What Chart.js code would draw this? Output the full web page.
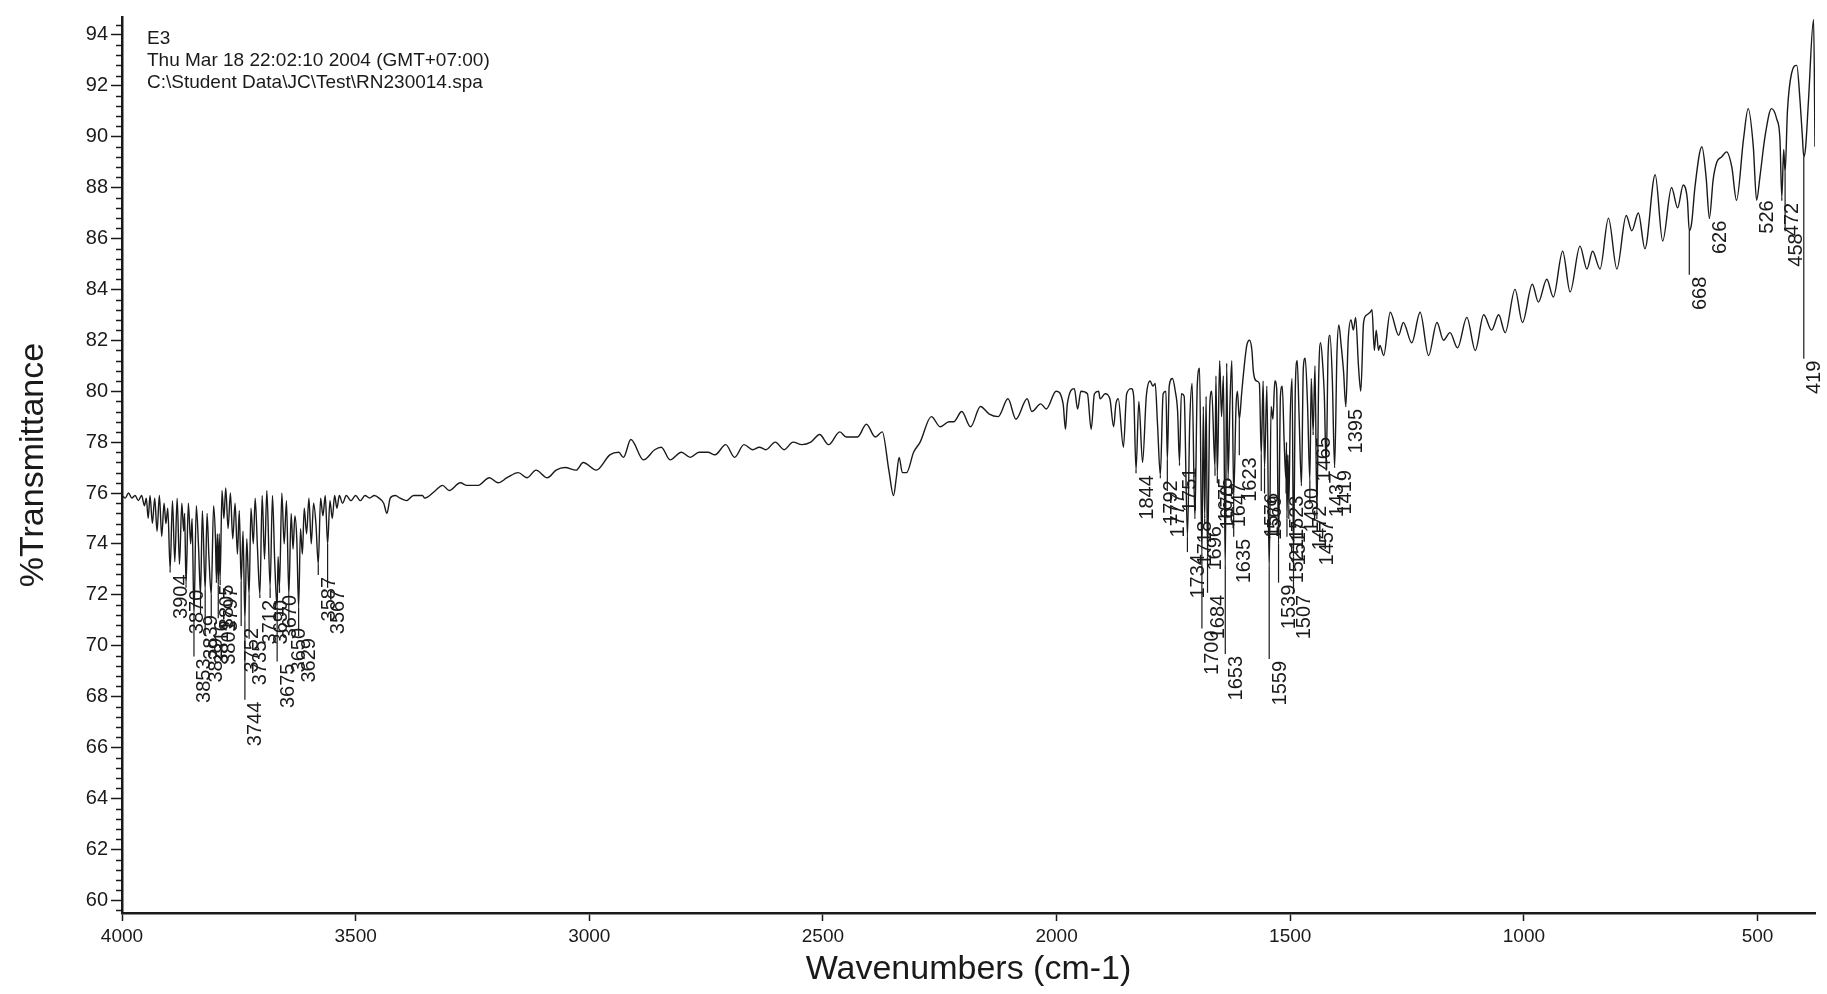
<!DOCTYPE html>
<html>
<head>
<meta charset="utf-8">
<title>IR spectrum - RN230014</title>
<script src="https://cdn.jsdelivr.net/npm/chart.js@4.4.1/dist/chart.umd.min.js"></script>
<style>
  html, body { margin: 0; padding: 0; background: #fff; }
</style>
</head>
<body>
<canvas id="irChart" width="1827" height="994"></canvas>
<script>
// ---- spectrum (wavenumber cm-1 / %T) ----
const wavenumbers = [
  4000, 3993, 3986, 3979, 3972, 3965, 3958, 3952,
  3948, 3944, 3940, 3935, 3930, 3925, 3920, 3915, 3910, 3906, 3902, 3897,
  3892, 3887, 3882, 3877, 3872, 3868, 3866, 3863, 3858, 3853, 3850, 3846,
  3841, 3836, 3832, 3828, 3822, 3818, 3814, 3809, 3804, 3800, 3798, 3796,
  3794, 3792, 3790, 3786, 3782, 3778, 3773, 3768, 3763, 3758, 3753, 3749,
  3745, 3741, 3737, 3733, 3728, 3724, 3719, 3715, 3710, 3705, 3700, 3695,
  3690, 3683, 3678, 3673, 3668, 3666, 3663, 3658, 3653, 3648, 3643, 3638,
  3634, 3630, 3626, 3622, 3618, 3614, 3610, 3605, 3600, 3595, 3590, 3585,
  3580, 3575, 3570, 3565, 3560, 3555, 3550, 3545, 3540, 3535, 3528, 3520,
  3510, 3500, 3490, 3480, 3470, 3460, 3450, 3440, 3433, 3426, 3415,
  3405, 3391, 3376, 3357, 3352, 3329, 3314, 3300, 3276, 3262, 3238, 3214,
  3195, 3176, 3152, 3133, 3114, 3090, 3071, 3052, 3028, 3013, 2985, 2956,
  2937, 2927, 2911, 2884, 2860, 2846, 2827, 2803, 2784, 2765, 2746, 2731,
  2708, 2689, 2669, 2650, 2636, 2622, 2602, 2583, 2564, 2545, 2526, 2507,
  2488, 2464, 2450, 2426, 2407, 2388, 2373, 2359, 2349, 2343, 2337, 2330,
  2321, 2306, 2292, 2268, 2249, 2230, 2220, 2203, 2184, 2163, 2144, 2125,
  2104, 2087, 2063, 2053, 2034, 2022, 2001, 1986, 1981, 1977, 1962, 1955,
  1948, 1934, 1926, 1919, 1910,
  1907, 1896, 1886, 1878, 1873, 1868, 1857, 1850, 1840, 1835, 1830, 1824,
  1816, 1808, 1800, 1794, 1789, 1784, 1778, 1772, 1766, 1763, 1759, 1752,
  1746, 1741, 1737, 1733, 1727, 1720, 1715, 1710, 1704, 1699, 1694, 1689,
  1686, 1683, 1680, 1677, 1672, 1668, 1661, 1659, 1656, 1651, 1647, 1643,
  1639, 1636, 1633, 1629, 1625, 1621, 1616, 1613, 1609, 1604, 1600, 1593,
  1587, 1582, 1579, 1572, 1566, 1562, 1558, 1555, 1550, 1545, 1541, 1537,
  1533, 1529, 1525, 1521, 1517, 1513, 1509, 1508, 1507, 1505, 1503, 1500,
  1496, 1493, 1489, 1485, 1481, 1476, 1472, 1468, 1463, 1458, 1455, 1451,
  1447, 1443, 1439, 1435, 1430, 1427, 1423, 1419, 1415, 1410, 1405, 1400,
  1396, 1391, 1386, 1381, 1376, 1370, 1365, 1360, 1354, 1349, 1343, 1336,
  1329, 1325, 1320, 1316, 1311, 1308, 1300, 1286, 1268, 1258, 1240, 1222,
  1204, 1186, 1172, 1158, 1142, 1122, 1104, 1086, 1069, 1054, 1040, 1019,
  1003, 982, 969, 951, 937, 917, 901, 880, 865, 853, 837, 819,
  801, 781, 769, 755, 741, 719, 703, 684, 671, 659, 650, 646,
  641, 634, 619, 610, 603, 595, 587, 577, 566, 555, 545, 530,
  520, 509, 502, 495, 484, 470, 459, 452, 448, 444, 441, 436,
  427, 416, 409, 404, 401, 397, 391, 380, 377
];

const transmittance = [
  75.9, 75.8, 76.0, 75.8, 75.9, 75.7, 75.9, 75.5,
  75.8, 75.0, 75.9, 74.8, 75.8, 74.5, 75.9, 74.3, 75.6, 74.8, 75.4, 73.0,
  75.7, 73.3, 75.8, 73.2, 75.6, 74.5, 75.2, 72.4, 75.6, 74.0, 75.0, 71.2,
  75.5, 73.8, 72.0, 75.3, 72.2, 75.2, 73.5, 72.0, 75.5, 74.2, 72.6, 74.4,
  72.4, 74.4, 72.6, 76.1, 75.0, 76.2, 74.6, 76.0, 74.2, 75.6, 73.6, 75.3,
  72.5, 74.5, 71.0, 74.2, 72.0, 75.4, 74.0, 75.8, 73.8, 72.0, 75.9, 73.4,
  76.1, 72.3, 75.9, 73.2, 71.5, 73.5, 72.3, 76.0, 74.0, 75.7, 72.0, 75.2,
  73.8, 75.1, 74.2, 71.5, 74.6, 73.6, 75.4, 74.4, 75.8, 74.0, 75.6, 74.8,
  73.2, 75.8, 75.1, 75.9, 74.0, 75.7, 75.0, 75.9, 75.4, 75.9, 75.6, 75.9,
  75.7, 75.9, 75.7, 75.9, 75.8, 75.9, 75.8, 75.6, 75.2, 75.8, 75.9,
  75.8, 75.7, 75.9, 75.9, 75.8, 76.1, 76.3, 76.1, 76.4, 76.3, 76.3, 76.6,
  76.4, 76.6, 76.8, 76.6, 76.9, 76.6, 76.9, 77.0, 76.9, 77.2, 76.9, 77.5,
  77.6, 77.4, 78.1, 77.3, 77.7, 77.8, 77.3, 77.6, 77.4, 77.6, 77.6, 77.5,
  77.9, 77.4, 77.9, 77.7, 77.8, 77.7, 78.0, 77.7, 78.0, 77.9, 78.0, 78.3,
  77.9, 78.4, 78.2, 78.2, 78.7, 78.2, 78.4, 76.9, 75.9, 76.6, 77.4, 76.8,
  76.8, 77.6, 78.0, 79.0, 78.6, 78.8, 78.8, 79.2, 78.6, 79.4, 79.1, 79.0,
  79.7, 78.9, 79.7, 79.2, 79.5, 79.3, 80.0, 79.5, 78.5, 79.5, 80.1, 79.3,
  80.0, 79.9, 78.5, 79.9, 80.0,
  79.7, 79.9, 79.7, 78.6, 79.5, 79.7, 77.8, 79.9, 80.1, 79.8, 76.9, 79.6,
  77.2, 79.8, 80.4, 80.2, 80.3, 78.7, 76.7, 79.9, 80.0, 77.3, 80.2, 80.5,
  80.0, 79.2, 77.2, 79.9, 79.8, 74.3, 78.8, 80.3, 75.0, 80.2, 80.9, 73.5,
  79.4, 75.0, 79.8, 73.5, 79.5, 80.0, 77.0, 80.6, 76.7, 81.2, 79.0, 80.6,
  73.0, 81.1, 76.6, 79.5, 81.2, 75.9, 79.4, 80.0, 78.9, 79.9, 80.7, 81.8,
  82.0, 81.6, 80.8, 80.4, 80.3, 77.5, 80.4, 77.0, 80.2, 73.0, 79.4, 78.9,
  80.4, 80.1, 74.0, 79.8, 80.2, 78.0, 76.5, 78.0, 75.0, 77.5, 75.5, 79.0,
  80.5, 73.5, 80.2, 81.2, 79.0, 76.3, 80.9, 81.3, 79.5, 76.5, 80.5, 78.4,
  81.0, 75.2, 80.6, 81.9, 80.9, 79.8, 77.0, 81.5, 82.2, 80.5, 77.0, 81.5,
  82.6, 81.8, 80.8, 79.4, 82.0, 82.8, 82.4, 82.9, 81.0, 80.0, 82.7, 83.0,
  83.1, 83.2, 81.6, 82.4, 81.6, 81.8, 81.4, 83.1, 82.2, 82.7, 81.9, 83.1,
  81.4, 82.7, 82.0, 82.3, 81.7, 82.9, 81.6, 83.0, 82.4, 83.0, 82.3, 84.0,
  82.7, 84.2, 83.5, 84.4, 83.7, 85.5, 83.9, 85.7, 84.8, 85.5, 84.8, 86.8,
  84.8, 86.9, 86.3, 87.0, 85.6, 88.5, 85.9, 88.0, 87.2, 88.1, 87.5, 86.3,
  86.6, 88.0, 89.6, 88.4, 86.8, 88.3, 89.0, 89.2, 89.4, 88.8, 87.5, 89.9,
  91.1, 89.6, 87.5, 88.4, 90.0, 91.1, 90.7, 89.9, 87.6, 89.5, 88.6, 91.0,
  92.5, 92.8, 91.4, 90.0, 89.2, 89.6, 91.4, 94.6, 89.6
];

// ---- labelled peaks: text, position on the scan, %T where the label text starts ----
const peakLabels = [
  '3904', '3870', '3853', '3839', '3829', '3816', '3805', '3801', '3797', '3752',
  '3744', '3735', '3712', '3690', '3675', '3670', '3650', '3629', '3587', '3567',
  '1844', '1792', '1777', '1751', '1734', '1718', '1700', '1696', '1684', '1675',
  '1670', '1653', '1647', '1635', '1623', '1576', '1569', '1559', '1539', '1523',
  '1521', '1517', '1507', '1490', '1472', '1465', '1457', '1437', '1419', '1395',
  '668', '626', '526', '472', '458', '419'
];
const peakPositions = [
  3897, 3863, 3846, 3832, 3822, 3809, 3798, 3794, 3790, 3745,
  3737, 3728, 3705, 3683, 3668, 3663, 3643, 3622, 3580, 3560,
  1830, 1778, 1763, 1737, 1720, 1704, 1689, 1683, 1677, 1661,
  1656, 1639, 1633, 1621, 1609, 1562, 1555, 1545, 1525, 1509,
  1507, 1503, 1493, 1476, 1458, 1451, 1443, 1423, 1405, 1381,
  646, 603, 502, 448, 441, 401
];
const peakLabelTops = [
  72.8, 72.2, 69.5, 71.2, 70.3, 71.0, 72.4, 71.0, 72.3, 70.7,
  67.8, 70.2, 71.8, 71.8, 69.3, 72.0, 70.7, 70.3, 72.7, 72.2,
  76.7, 76.5, 76.0, 77.0, 73.6, 74.9, 70.6, 74.7, 72.0, 76.6,
  76.3, 69.6, 76.4, 74.2, 77.4, 76.0, 75.9, 69.4, 72.4, 75.9,
  74.2, 74.9, 72.0, 76.2, 75.5, 78.2, 74.9, 76.8, 76.9, 79.3,
  84.5, 86.7, 87.5, 87.4, 86.2, 81.2
];

const xTickValues = [4000, 3500, 3000, 2500, 2000, 1500, 1000, 500];
const yTickValues = [60, 62, 64, 66, 68, 70, 72, 74, 76, 78, 80, 82, 84, 86, 88, 90, 92, 94];

const headerLines = [
  'E3',
  'Thu Mar 18 22:02:10 2004 (GMT+07:00)',
  'C:\\Student Data\\JC\\Test\\RN230014.spa'
];

const FONT = '"Liberation Sans", Arial, Helvetica, sans-serif';
const INK = '#1a1a1a';

// minor y ticks, peak leaders + rotated labels, file header
const spectrumNotes = {
  id: 'spectrumNotes',
  afterDatasetsDraw(chart) {
    const { ctx, chartArea, scales: { x, y } } = chart;
    ctx.save();

    ctx.strokeStyle = INK;
    ctx.lineWidth = 1.5;
    for (let k = 0; k <= 87; k++) {
      const v = 59.6 + k * 0.4;
      if (Math.abs(v - Math.round(v / 2) * 2) < 0.01) continue;
      const py = Math.round(y.getPixelForValue(v)) + 0.5;
      ctx.beginPath();
      ctx.moveTo(chartArea.left - 6, py);
      ctx.lineTo(chartArea.left, py);
      ctx.stroke();
    }

    ctx.font = '20px ' + FONT;
    ctx.fillStyle = INK;
    ctx.lineWidth = 1.2;
    peakLabels.forEach((label, i) => {
      const pos = peakPositions[i];
      const idx = wavenumbers.indexOf(pos);
      const px = x.getPixelForValue(pos);
      const yText = y.getPixelForValue(peakLabelTops[i]);
      const yPeak = idx >= 0 ? y.getPixelForValue(transmittance[idx]) : yText;
      if (yText - 2 > yPeak) {
        ctx.beginPath();
        ctx.moveTo(px, yPeak);
        ctx.lineTo(px, yText - 2);
        ctx.stroke();
      }
      ctx.save();
      ctx.translate(px + 1, yText);
      ctx.rotate(-Math.PI / 2);
      ctx.textAlign = 'right';
      ctx.textBaseline = 'top';
      ctx.fillText(label, 0, 0);
      ctx.restore();
    });

    ctx.font = '19px ' + FONT;
    ctx.textAlign = 'left';
    ctx.textBaseline = 'middle';
    headerLines.forEach((line, i) => {
      ctx.fillText(line, chartArea.left + 25, 39 + i * 22);
    });

    ctx.restore();
  }
};

new Chart(document.getElementById('irChart'), {
  type: 'line',
  data: {
    datasets: [{
      data: wavenumbers.map((w, i) => ({ x: w, y: transmittance[i] })),
      borderColor: INK,
      borderWidth: 1.4,
      pointRadius: 0,
      cubicInterpolationMode: 'monotone',
      fill: false
    }]
  },
  options: {
    responsive: false,
    animation: false,
    events: [],
    layout: { padding: { top: 17, right: 12, left: 0, bottom: 0 } },
    plugins: { legend: { display: false }, tooltip: { enabled: false } },
    scales: {
      x: {
        type: 'linear',
        reverse: true,
        min: 377,
        max: 4000,
        afterBuildTicks: s => { s.ticks = xTickValues.map(v => ({ value: v })); },
        afterFit: s => { s.height = 81; },
        grid: { drawOnChartArea: false, tickLength: 8, color: INK, tickWidth: 1.5 },
        border: { display: true, color: INK, width: 2.5 },
        ticks: { font: { size: 19, family: FONT }, color: INK, padding: 4, maxRotation: 0,
                 autoSkip: false, callback: v => String(v) },
        title: { display: true, text: 'Wavenumbers (cm-1)', color: INK,
                 font: { size: 34, family: FONT }, padding: { top: 0, bottom: 4 } }
      },
      y: {
        min: 59.5,
        max: 94.7,
        afterBuildTicks: s => { s.ticks = yTickValues.map(v => ({ value: v })); },
        afterFit: s => { s.width = 122; },
        grid: { drawOnChartArea: false, tickLength: 11, color: INK, tickWidth: 1.5 },
        border: { display: true, color: INK, width: 2.5 },
        ticks: { font: { size: 20, family: FONT }, color: INK, padding: 3, autoSkip: false,
                 callback: v => String(v) },
        title: { display: true, text: '%Transmittance', color: INK,
                 font: { size: 34, family: FONT }, padding: { top: 13, bottom: 0 } }
      }
    }
  },
  plugins: [spectrumNotes]
});
</script>
</body>
</html>
